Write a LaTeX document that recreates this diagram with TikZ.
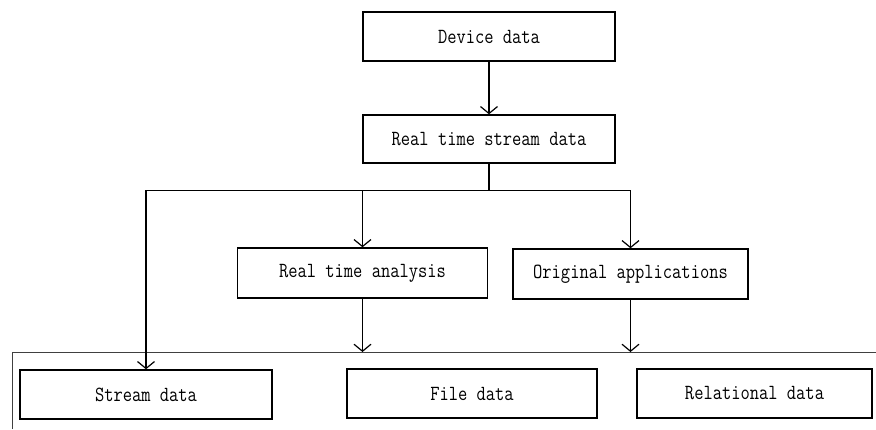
\documentclass[tikz,border=0pt]{standalone}
\usetikzlibrary{arrows.meta}
\newcommand{\tall}[1]{\scalebox{1}[1.2]{#1}}
\begin{document}
\begin{tikzpicture}[x=1pt,y=-1pt,
  box/.style={draw=black,line width=1.4pt,minimum height=49pt,inner sep=0pt,
    font=\ttfamily\fontsize{18}{20}\selectfont},
  arr/.style={line width=1.2pt,-{Straight Barb[length=7pt,width=17pt,line width=1.2pt]}},
  wire/.style={line width=1.2pt},
  frame/.style={draw=black!75,line width=0.9pt}]
\useasboundingbox (0,0) rectangle (876,429);

% boxes
\node[box,minimum width=252pt] (dev) at (489,36.5) {\tall{Device data}};
\node[box,minimum width=252pt,minimum height=48pt] (rts) at (489,139) {\tall{Real time stream data}};
\node[box,minimum width=250pt,minimum height=50pt] (rta) at (362.5,273) {\tall{Real time analysis}};
\node[box,minimum width=235pt,minimum height=50pt] (oa) at (630.5,274) {\tall{Original applications}};
\node[box,minimum width=252pt] (sd) at (146,394.5) {\tall{Stream data}};
\node[box,minimum width=250pt] (fd) at (472,393.5) {\tall{File data}};
\node[box,minimum width=235pt] (rd) at (754.5,393.5) {\tall{Relational data}};

% storage frame
\coordinate (fl) at (12,352);
\coordinate (fr) at (876,352);
\coordinate (fb) at (12,429);
\draw[frame] (fb) -- (fl) -- (fr);

% junction below the stream box
\coordinate (j) at ([yshift=-26.5pt]rts.south);

% connectors
\draw[arr] (dev.south) -- (rts.north);
\draw[wire] (rts.south) -- (j);
\draw[arr] (j) -| (sd.north);
\draw[arr] (j) -| (rta.north);
\draw[arr] (j) -| (oa.north);
\draw[arr] (rta.south) -- (rta.south |- fl);
\draw[arr] (oa.south) -- (oa.south |- fl);
\end{tikzpicture}
\end{document}
